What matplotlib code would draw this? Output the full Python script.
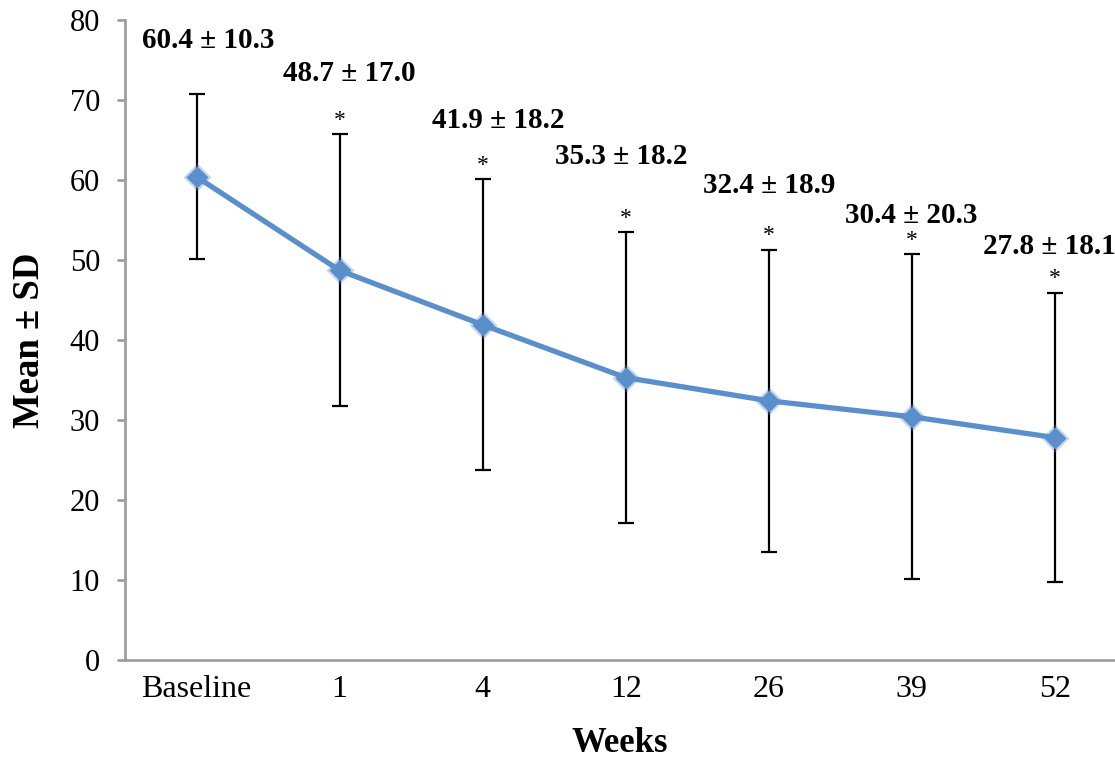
import matplotlib
matplotlib.use("Agg")
import matplotlib.pyplot as plt
import numpy as np

# weekly means with standard deviations
weeks = ["Baseline", "1", "4", "12", "26", "39", "52"]
means = [60.4, 48.7, 41.9, 35.3, 32.4, 30.4, 27.8]
sds = [10.3, 17.0, 18.2, 18.2, 18.9, 20.3, 18.1]
significant = [False, True, True, True, True, True, True]

# (dx, dy) offset in points of each value label from its upper error bar cap
label_offsets = [(8.5, 39), (7, 44), (11, 42), (-3, 54), (0.5, 46), (-0.5, 28), (-4, 33)]

plt.rcParams["font.family"] = ["Liberation Serif", "DejaVu Serif"]

fig = plt.figure(figsize=(11.15, 7.61), dpi=100)
ax = fig.add_axes([125 / 1115, 1 - 660 / 761, 1 - 125 / 1115, 640 / 761])

x = np.arange(len(weeks))
means_arr = np.array(means)
sds_arr = np.array(sds)

blue = "#5B8FCB"
ax.errorbar(x, means_arr, yerr=sds_arr, fmt="none", ecolor="black",
            elinewidth=1.6, capsize=6, capthick=1.6, zorder=2)
ax.plot(x, means_arr, color=blue, lw=3.8, zorder=3)
# soft halo under the diamond markers
ax.plot(x, means_arr, "D", ms=14.5, color=blue, alpha=0.35, mec="none", zorder=4)
ax.plot(x, means_arr, "D", ms=11, color=blue, mec="none", zorder=5)

for xi, m, s, sig, (dx, dy) in zip(x, means, sds, significant, label_offsets):
    top = m + s
    ax.annotate(f"{m:.1f} \u00b1 {s:.1f}", (xi, top), xytext=(dx, dy),
                textcoords="offset points", ha="center", va="center",
                fontsize=21, fontweight="bold", annotation_clip=False)
    if sig:
        ax.annotate("*", (xi, top), xytext=(0, 6), textcoords="offset points",
                    ha="center", va="baseline", fontsize=17)

ax.set_xlim(-0.5, 6.42)
ax.set_ylim(0, 80)
ax.set_yticks(range(0, 81, 10))
ax.set_xticks(x)
ax.set_xticklabels(weeks)

for side in ("top", "right"):
    ax.spines[side].set_visible(False)
for side in ("left", "bottom"):
    ax.spines[side].set_color("#A0A0A0")
    ax.spines[side].set_linewidth(2)

ax.tick_params(axis="y", length=6, width=2, color="#A0A0A0", pad=12, labelsize=22)
ax.tick_params(axis="x", length=0, pad=11, labelsize=23)

ax.set_xlabel("Weeks", fontsize=25, fontweight="bold", labelpad=16)
ax.set_ylabel("Mean \u00b1 SD", fontsize=26.5, fontweight="bold", labelpad=16)

fig.savefig("out.png", dpi=100)
